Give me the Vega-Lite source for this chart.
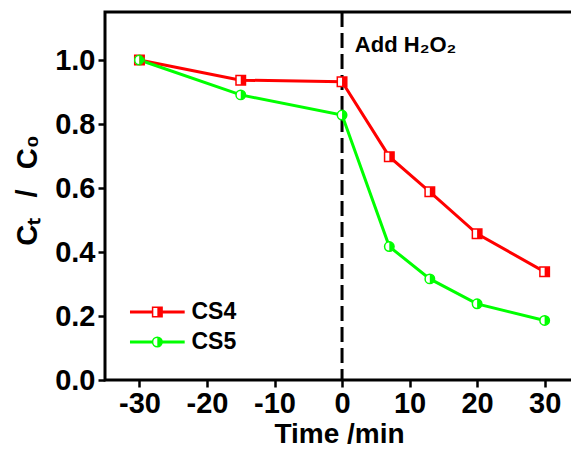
{
  "$schema": "https://vega.github.io/schema/vega-lite/v6.json",
  "width": 468,
  "height": 368,
  "autosize": {"type": "none"},
  "padding": {"left": 105, "top": 12, "right": 0, "bottom": 72},
  "background": "white",
  "config": {
    "font": "Liberation Sans",
    "view": {"stroke": "black", "strokeWidth": 3},
    "axis": {
      "grid": false,
      "domain": false,
      "tickColor": "black",
      "tickWidth": 2.5,
      "labelColor": "black",
      "labelFontWeight": "bold",
      "labelFontSize": 29,
      "titleColor": "black",
      "titleFontWeight": "bold",
      "titleFontSize": 28
    }
  },
  "datasets": {
    "pts": [
      {"series": "CS4", "time": -30, "ct": 1.0},
      {"series": "CS4", "time": -15, "ct": 0.937},
      {"series": "CS4", "time": 0, "ct": 0.932},
      {"series": "CS4", "time": 7, "ct": 0.698},
      {"series": "CS4", "time": 13, "ct": 0.588},
      {"series": "CS4", "time": 20, "ct": 0.457},
      {"series": "CS4", "time": 30, "ct": 0.338},
      {"series": "CS5", "time": -30, "ct": 1.0},
      {"series": "CS5", "time": -15, "ct": 0.891},
      {"series": "CS5", "time": 0, "ct": 0.828},
      {"series": "CS5", "time": 7, "ct": 0.417},
      {"series": "CS5", "time": 13, "ct": 0.316},
      {"series": "CS5", "time": 20, "ct": 0.238},
      {"series": "CS5", "time": 30, "ct": 0.186}
    ]
  },
  "layer": [
    {
      "data": {"values": [{"k": 1}]},
      "mark": {"type": "rule", "strokeDash": [15, 6], "strokeWidth": 3, "color": "black"},
      "encoding": {
        "x": {"datum": 0, "type": "quantitative", "scale": {"domain": [-35.1, 34.2], "nice": false, "zero": false}}
      }
    },
    {
      "data": {"name": "pts"},
      "mark": {"type": "line", "strokeWidth": 3},
      "encoding": {
        "x": {
          "field": "time", "type": "quantitative",
          "scale": {"domain": [-35.1, 34.2], "nice": false, "zero": false},
          "axis": {
            "title": "Time /min",
            "values": [-30, -25, -20, -15, -10, -5, 0, 5, 10, 15, 20, 25, 30],
            "labelExpr": "datum.value % 10 != 0 ? '' : '' + datum.value",
            "tickSize": {"condition": {"test": "datum.value % 10 != 0", "value": 4}, "value": 7},
            "labelPadding": 2,
            "titlePadding": 2
          }
        },
        "y": {
          "field": "ct", "type": "quantitative",
          "scale": {"domain": [0, 1.15], "nice": false},
          "axis": {
            "title": "Cₜ\u2002\u2009/\u2002\u2009C₀",
            "titleFontSize": 29,
            "values": [0, 0.1, 0.2, 0.3, 0.4, 0.5, 0.6, 0.7, 0.8, 0.9, 1.0, 1.1],
            "labelExpr": "round(datum.value*10) % 2 == 1 ? '' : format(datum.value, '.1f')",
            "tickSize": {"condition": {"test": "round(datum.value*10) % 2 == 1", "value": 4}, "value": 7},
            "labelPadding": 3,
            "titlePadding": 12,
            "titleY": 178
          }
        },
        "color": {"field": "series", "type": "nominal", "scale": {"domain": ["CS4", "CS5"], "range": ["#ff0000", "#00ff00"]}, "legend": null}
      }
    },
    {
      "data": {"name": "pts"},
      "mark": {"type": "point", "filled": false, "fill": "white", "fillOpacity": 1, "opacity": 1, "strokeWidth": 1.5, "size": 90},
      "encoding": {
        "x": {"field": "time", "type": "quantitative"},
        "y": {"field": "ct", "type": "quantitative"},
        "stroke": {"field": "series", "type": "nominal", "scale": {"domain": ["CS4", "CS5"], "range": ["#ff0000", "#00ff00"]}, "legend": null},
        "shape": {"field": "series", "type": "nominal", "scale": {"domain": ["CS4", "CS5"], "range": ["square", "circle"]}, "legend": null}
      }
    },
    {
      "data": {"name": "pts"},
      "mark": {"type": "point", "filled": true, "opacity": 1, "strokeWidth": 0, "size": 90},
      "encoding": {
        "x": {"field": "time", "type": "quantitative"},
        "y": {"field": "ct", "type": "quantitative"},
        "fill": {"field": "series", "type": "nominal", "scale": {"domain": ["CS4", "CS5"], "range": ["#ff0000", "#00ff00"]}, "legend": null},
        "shape": {"field": "series", "type": "nominal", "scale": {"domain": ["CS4", "CS5"], "range": ["M0,-1H1V1H0Z", "M0,-1A1,1 0 0 1 0,1Z"]}, "legend": null}
      }
    },
    {
      "data": {"values": [{"series": "CS4"}]},
      "layer": [
        {
          "mark": {"type": "rule", "strokeWidth": 3},
          "encoding": {
            "x": {"datum": -31.4, "type": "quantitative"},
            "x2": {"datum": -23.3},
            "y": {"datum": 0.2125, "type": "quantitative"},
            "color": {"field": "series", "type": "nominal", "legend": null}
          }
        },
        {
          "mark": {"type": "point", "filled": false, "fill": "white", "fillOpacity": 1, "opacity": 1, "strokeWidth": 1.5, "size": 90, "shape": "square"},
          "encoding": {
            "x": {"datum": -27.35, "type": "quantitative"},
            "y": {"datum": 0.2125, "type": "quantitative"},
            "stroke": {"field": "series", "type": "nominal", "legend": null}
          }
        },
        {
          "mark": {"type": "point", "filled": true, "opacity": 1, "strokeWidth": 0, "size": 90, "shape": "M0,-1H1V1H0Z"},
          "encoding": {
            "x": {"datum": -27.35, "type": "quantitative"},
            "y": {"datum": 0.2125, "type": "quantitative"},
            "fill": {"field": "series", "type": "nominal", "legend": null}
          }
        },
        {
          "mark": {"type": "text", "align": "left", "baseline": "middle", "fontSize": 23, "fontWeight": "bold", "color": "black", "font": "Liberation Sans"},
          "encoding": {
            "x": {"datum": -22.3, "type": "quantitative"},
            "y": {"datum": 0.2125, "type": "quantitative"},
            "text": {"field": "series", "type": "nominal"}
          }
        }
      ]
    },
    {
      "data": {"values": [{"series": "CS5"}]},
      "layer": [
        {
          "mark": {"type": "rule", "strokeWidth": 3},
          "encoding": {
            "x": {"datum": -31.4, "type": "quantitative"},
            "x2": {"datum": -23.3},
            "y": {"datum": 0.11875, "type": "quantitative"},
            "color": {"field": "series", "type": "nominal", "legend": null}
          }
        },
        {
          "mark": {"type": "point", "filled": false, "fill": "white", "fillOpacity": 1, "opacity": 1, "strokeWidth": 1.5, "size": 90, "shape": "circle"},
          "encoding": {
            "x": {"datum": -27.35, "type": "quantitative"},
            "y": {"datum": 0.11875, "type": "quantitative"},
            "stroke": {"field": "series", "type": "nominal", "legend": null}
          }
        },
        {
          "mark": {"type": "point", "filled": true, "opacity": 1, "strokeWidth": 0, "size": 90, "shape": "M0,-1A1,1 0 0 1 0,1Z"},
          "encoding": {
            "x": {"datum": -27.35, "type": "quantitative"},
            "y": {"datum": 0.11875, "type": "quantitative"},
            "fill": {"field": "series", "type": "nominal", "legend": null}
          }
        },
        {
          "mark": {"type": "text", "align": "left", "baseline": "middle", "fontSize": 23, "fontWeight": "bold", "color": "black", "font": "Liberation Sans"},
          "encoding": {
            "x": {"datum": -22.3, "type": "quantitative"},
            "y": {"datum": 0.11875, "type": "quantitative"},
            "text": {"field": "series", "type": "nominal"}
          }
        }
      ]
    },
    {
      "data": {"values": [{"label": "Add H₂O₂"}]},
      "mark": {"type": "text", "align": "left", "baseline": "middle", "fontSize": 22, "fontWeight": "bold", "color": "black", "font": "Liberation Sans"},
      "encoding": {
        "x": {"datum": 1.9, "type": "quantitative"},
        "y": {"datum": 1.047, "type": "quantitative"},
        "text": {"field": "label", "type": "nominal"}
      }
    }
  ],
  "resolve": {"scale": {"shape": "independent"}}
}
